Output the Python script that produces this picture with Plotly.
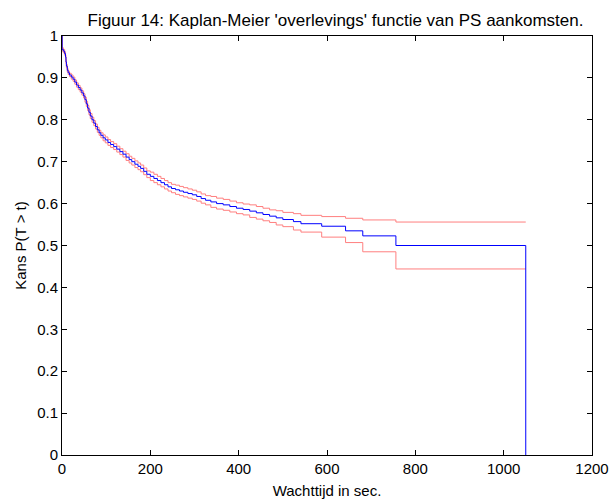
import plotly.graph_objects as go

# Kaplan-Meier estimate (step function: each value holds from its time onward)
t = [0, 0.3, 3, 6, 8, 9, 10, 12, 14, 17,
     21, 25, 29, 33, 37, 41, 45, 49, 52, 55,
     58, 61, 64, 68, 72, 76, 80, 84, 88, 93,
     98, 104, 110, 117, 124, 131, 138, 145, 152, 158,
     165, 172, 178, 185, 192, 200, 208, 216, 224, 232,
     240, 248, 257, 266, 275, 285, 295, 305, 315, 325,
     337, 350, 365, 380, 395, 410, 425, 440, 455, 470,
     485, 500, 524, 541, 588, 642, 681, 756, 1050]
surv = [1.000, 0.968, 0.964, 0.958, 0.950, 0.938, 0.928, 0.918, 0.912, 0.907,
        0.902, 0.897, 0.890, 0.883, 0.877, 0.871, 0.864, 0.857, 0.848, 0.838,
        0.828, 0.818, 0.809, 0.800, 0.792, 0.784, 0.776, 0.769, 0.763, 0.757,
        0.752, 0.746, 0.741, 0.736, 0.730, 0.724, 0.718, 0.711, 0.705, 0.700,
        0.694, 0.689, 0.684, 0.677, 0.670, 0.665, 0.660, 0.655, 0.650, 0.645,
        0.640, 0.636, 0.633, 0.630, 0.627, 0.624, 0.621, 0.617, 0.612, 0.608,
        0.604, 0.600, 0.597, 0.593, 0.589, 0.586, 0.582, 0.578, 0.574, 0.570,
        0.566, 0.562, 0.557, 0.552, 0.546, 0.535, 0.523, 0.500, 0.000]
upper = [1.000, 0.972, 0.968, 0.962, 0.954, 0.942, 0.932, 0.922, 0.916, 0.911,
         0.907, 0.902, 0.895, 0.888, 0.882, 0.876, 0.869, 0.862, 0.854, 0.844,
         0.834, 0.824, 0.815, 0.806, 0.798, 0.790, 0.782, 0.775, 0.769, 0.764,
         0.759, 0.753, 0.748, 0.743, 0.737, 0.731, 0.725, 0.719, 0.713, 0.708,
         0.702, 0.697, 0.692, 0.685, 0.678, 0.675, 0.670, 0.665, 0.660, 0.655,
         0.650, 0.646, 0.644, 0.641, 0.638, 0.635, 0.632, 0.628, 0.623, 0.619,
         0.617, 0.613, 0.610, 0.606, 0.602, 0.599, 0.597, 0.593, 0.589, 0.585,
         0.583, 0.579, 0.576, 0.572, 0.569, 0.565, 0.561, 0.556, 0.556]
lower = [1.000, 0.964, 0.960, 0.954, 0.946, 0.934, 0.924, 0.914, 0.908, 0.903,
         0.897, 0.892, 0.885, 0.878, 0.872, 0.866, 0.859, 0.852, 0.842, 0.832,
         0.822, 0.812, 0.803, 0.794, 0.786, 0.778, 0.770, 0.763, 0.757, 0.750,
         0.745, 0.739, 0.734, 0.729, 0.723, 0.717, 0.711, 0.703, 0.697, 0.692,
         0.686, 0.681, 0.676, 0.669, 0.662, 0.655, 0.650, 0.645, 0.640, 0.635,
         0.630, 0.626, 0.622, 0.619, 0.616, 0.613, 0.610, 0.606, 0.601, 0.597,
         0.591, 0.587, 0.584, 0.580, 0.576, 0.573, 0.567, 0.563, 0.559, 0.555,
         0.549, 0.545, 0.537, 0.532, 0.520, 0.507, 0.485, 0.444, 0.444]

x_ticks = [0, 200, 400, 600, 800, 1000, 1200]
y_ticks = [0, 0.1, 0.2, 0.3, 0.4, 0.5, 0.6, 0.7, 0.8, 0.9, 1]

title_text = "Figuur 14: Kaplan-Meier 'overlevings' functie van PS aankomsten."
x_label = "Wachttijd in sec."
y_label = "Kans P(T > t)"

fig = go.Figure()
fig.add_trace(go.Scatter(x=t, y=upper, mode="lines", line=dict(color="#FF7F7F", width=1, shape="hv"),
                         showlegend=False, hoverinfo="skip"))
fig.add_trace(go.Scatter(x=t, y=lower, mode="lines", line=dict(color="#FF7F7F", width=1, shape="hv"),
                         showlegend=False, hoverinfo="skip"))
fig.add_trace(go.Scatter(x=t, y=surv, mode="lines", line=dict(color="#0000FF", width=1, shape="hv"),
                         showlegend=False))

font_family = "Liberation Sans, Arial, sans-serif"
axis_common = dict(
    showgrid=False, zeroline=False, showline=True, linecolor="black", linewidth=1,
    mirror="ticks", ticks="inside", ticklen=5, tickcolor="black",
    tickfont=dict(family=font_family, size=15, color="black"),
    ticklabeloverflow="allow", automargin=False,
)

fig.update_layout(
    width=611, height=499,
    margin=dict(l=62, r=19, t=36, b=44, autoexpand=False),
    paper_bgcolor="white", plot_bgcolor="white",
    title=dict(text=title_text, x=335.5 / 611, xref="container", xanchor="center",
               y=1 - 20 / 499, yanchor="middle", yref="container", automargin=False,
               font=dict(family=font_family, size=17, color="black")),
    xaxis=dict(range=[0, 1200], tickvals=x_ticks, ticktext=[str(v) for v in x_ticks],
               title=dict(text=x_label, standoff=10, font=dict(family=font_family, size=15, color="black")),
               **axis_common),
    yaxis=dict(range=[0, 1], tickvals=y_ticks, ticktext=[f"{v:g}" for v in y_ticks],
               title=dict(text=y_label, standoff=6, font=dict(family=font_family, size=15, color="black")),
               **axis_common),
)

fig.write_html("out.html")
